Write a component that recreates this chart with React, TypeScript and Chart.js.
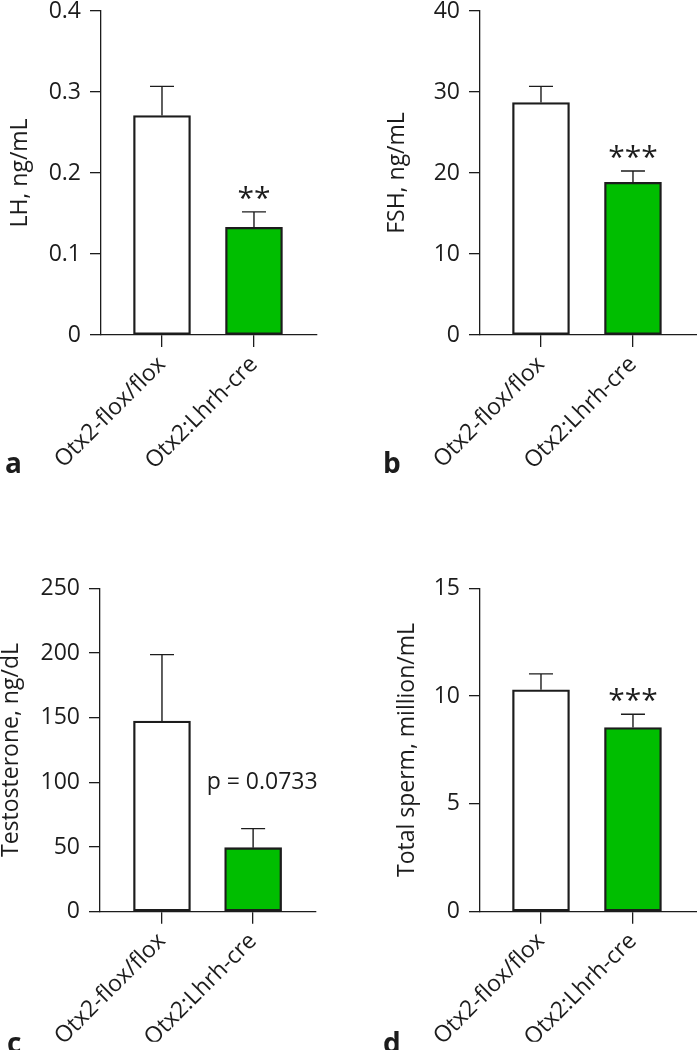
import React, { useEffect, useRef } from 'react';
import { Chart, registerables } from 'chart.js';

Chart.register(...registerables);

// ---------- data ----------
const categories = ['Otx2-flox/flox', 'Otx2:Lhrh-cre'];

const lhMean = [0.271, 0.133];
const lhSem = [0.036, 0.019];
const lhTicks = [0, 0.1, 0.2, 0.3, 0.4];
const lhMarks = ['', '**'];

const fshMean = [28.7, 18.85];
const fshSem = [2.0, 1.4];
const fshTicks = [0, 10, 20, 30, 40];
const fshMarks = ['', '***'];

const testoMean = [147.4, 49.5];
const testoSem = [51.3, 14.7];
const testoTicks = [0, 50, 100, 150, 200, 250];
const testoMarks = ['', 'p = 0.0733'];

const spermMean = [10.29, 8.54];
const spermSem = [0.74, 0.62];
const spermTicks = [0, 5, 10, 15];
const spermMarks = ['', '***'];

const barColors = ['#ffffff', '#00be00'];

// ---------- styling ----------
const INK = '#1c1c1c';
const FONT = '"Open Sans", "DejaVu Sans", sans-serif';
Chart.defaults.font.family = FONT;
Chart.defaults.color = INK;

const panels = [
  {
    letter: 'a', title: 'LH, ng/mL', mean: lhMean, sem: lhSem, ticks: lhTicks, marks: lhMarks,
    left: 0, top: 0, w: 348, h: 520, padTop: 11, padRight: 31, padBottom: 35, yW: 101, xH: 150,
    xMin: -0.663, xMax: 1.685, titlePad: 8.5, markFont: '30px', markGap: 12, markDx: 0,
    letterX: 5, letterY: 473,
  },
  {
    letter: 'b', title: 'FSH, ng/mL', mean: fshMean, sem: fshSem, ticks: fshTicks, marks: fshMarks,
    left: 350, top: 0, w: 347, h: 520, padTop: 11, padRight: 0, padBottom: 35, yW: 130, xH: 150,
    xMin: -0.663, xMax: 1.696, titlePad: 35.5, markFont: '30px', markGap: 12, markDx: 0,
    letterX: 33, letterY: 473,
  },
  {
    letter: 'c', title: 'Testosterone, ng/dL', mean: testoMean, sem: testoSem, ticks: testoTicks, marks: testoMarks,
    left: 0, top: 560, w: 348, h: 490, padTop: 28.3, padRight: 32, padBottom: 8.3, yW: 100, xH: 130,
    xMin: -0.68, xMax: 1.69, titlePad: 0, markFont: '23px', markGap: 34, markDx: 9,
    letterX: 7, letterY: 493,
  },
  {
    letter: 'd', title: 'Total sperm, million/mL', mean: spermMean, sem: spermSem, ticks: spermTicks, marks: spermMarks,
    left: 350, top: 560, w: 347, h: 490, padTop: 28.3, padRight: 0, padBottom: 8.3, yW: 130, xH: 130,
    xMin: -0.663, xMax: 1.696, titlePad: 45.5, markFont: '30px', markGap: 12, markDx: 0,
    letterX: 33, letterY: 493,
  },
];

const overlay = {
  id: 'overlay',
  afterDatasetsDraw(chart: any, _args: any, opts: any) {
    const { ctx } = chart;
    const xs = chart.scales.x;
    const ys = chart.scales.y;
    ctx.save();
    ctx.strokeStyle = INK;
    ctx.fillStyle = INK;
    ctx.lineWidth = 1.4;
    opts.mean.forEach((m: number, i: number) => {
      const px = xs.getPixelForValue(i);
      const top = ys.getPixelForValue(m + opts.sem[i]);
      const base = ys.getPixelForValue(m);
      ctx.beginPath();
      ctx.moveTo(px, base);
      ctx.lineTo(px, top);
      ctx.moveTo(px - 12, top);
      ctx.lineTo(px + 12, top);
      ctx.stroke();
      const mark = opts.marks[i];
      if (mark) {
        ctx.font = `${opts.markFont} ${FONT}`;
        ctx.textAlign = 'center';
        ctx.textBaseline = 'alphabetic';
        const mm = ctx.measureText(mark);
        const baseline = top - opts.markGap - mm.actualBoundingBoxDescent;
        ctx.fillText(mark, px + opts.markDx, baseline);
      }
    });
    ctx.font = `bold 28px ${FONT}`;
    ctx.textAlign = 'left';
    ctx.textBaseline = 'alphabetic';
    ctx.fillText(opts.letter, opts.letterX, opts.letterY);
    ctx.restore();
  },
};

function Panel({ p }: { p: any }) {
  const ref = useRef<HTMLCanvasElement | null>(null);
  useEffect(() => {
    if (!ref.current) return;
    const zeroPad = (s: any) => {
      s.paddingLeft = 0;
      s.paddingRight = 0;
      s.paddingTop = 0;
      s.paddingBottom = 0;
    };
    const chart = new Chart(ref.current, {
      type: 'bar',
      data: {
        datasets: [
          {
            data: p.mean.map((v: number, i: number) => ({ x: i, y: v })),
            backgroundColor: barColors,
            borderColor: INK,
            borderWidth: 2.3,
            borderSkipped: false,
            barThickness: 57,
          } as any,
        ],
      },
      options: {
        responsive: false,
        animation: false,
        devicePixelRatio: 1,
        layout: { padding: { left: 0, top: p.padTop, right: p.padRight, bottom: p.padBottom } },
        plugins: {
          legend: { display: false },
          tooltip: { enabled: false },
          overlay: {
            mean: p.mean, sem: p.sem, marks: p.marks, markFont: p.markFont, markGap: p.markGap,
            markDx: p.markDx, letter: p.letter, letterX: p.letterX, letterY: p.letterY,
          },
        } as any,
        scales: {
          x: {
            type: 'linear',
            offset: false,
            min: p.xMin,
            max: p.xMax,
            afterBuildTicks: (s: any) => {
              s.ticks = categories.map((_, i) => ({ value: i }));
            },
            afterFit: (s: any) => {
              s.height = p.xH;
              zeroPad(s);
            },
            ticks: {
              callback: (v: any) => categories[v as number],
              autoSkip: false,
              maxRotation: 45,
              minRotation: 45,
              padding: 4,
              font: { size: 23 },
              color: INK,
            },
            grid: { offset: false, drawOnChartArea: false, drawTicks: true, tickLength: 12, color: INK, lineWidth: 1.3 },
            border: { color: INK, width: 1.3 },
          },
          y: {
            type: 'linear',
            min: p.ticks[0],
            max: p.ticks[p.ticks.length - 1],
            afterBuildTicks: (s: any) => {
              s.ticks = p.ticks.map((v: number) => ({ value: v }));
            },
            afterFit: (s: any) => {
              s.width = p.yW;
              zeroPad(s);
            },
            ticks: { padding: 9, font: { size: 23 }, color: INK },
            grid: { drawOnChartArea: false, drawTicks: true, tickLength: 11, color: INK, lineWidth: 1.3 },
            border: { color: INK, width: 1.3 },
            title: {
              display: true,
              text: p.title,
              color: INK,
              font: { size: 23, lineHeight: 1 },
              padding: { top: p.titlePad, bottom: 0 },
            },
          },
        },
      } as any,
      plugins: [overlay as any],
    });
    return () => chart.destroy();
  }, [p]);
  return (
    <canvas
      ref={ref}
      width={p.w}
      height={p.h}
      style={{ position: 'absolute', left: p.left, top: p.top, width: p.w, height: p.h }}
    />
  );
}

export default function App() {
  return (
    <div
      style={{
        position: 'absolute',
        left: 0,
        top: 0,
        width: 697,
        height: 1050,
        background: '#ffffff',
        overflow: 'hidden',
      }}
    >
      {panels.map((p) => (
        <Panel key={p.letter} p={p} />
      ))}
    </div>
  );
}
